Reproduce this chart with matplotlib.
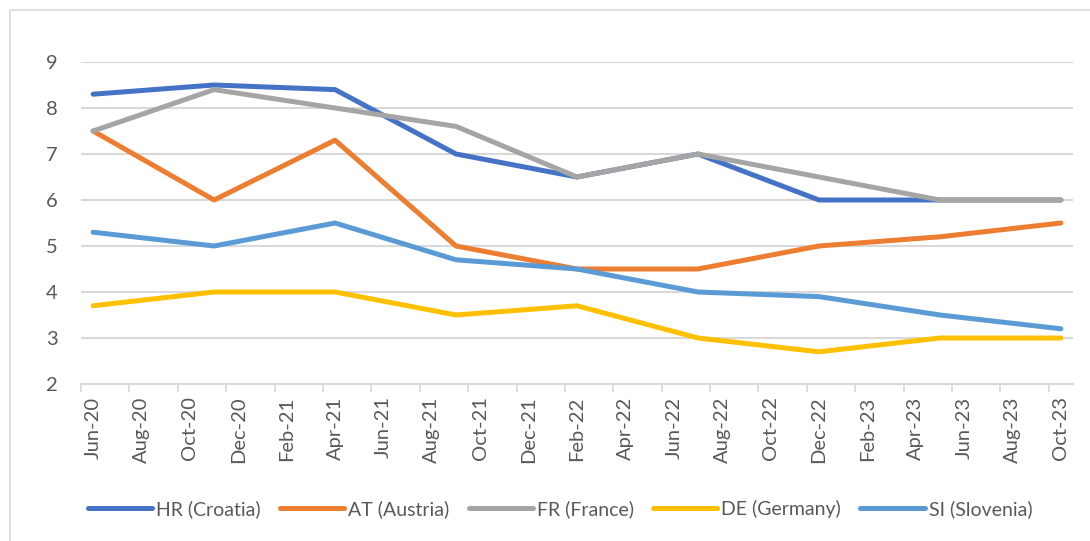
import matplotlib
matplotlib.use("Agg")
import matplotlib.pyplot as plt
from matplotlib.patches import Rectangle
from matplotlib.ticker import FixedLocator

# Data (month index 0 = Jun-20)
months = ["Jun-20","Jul-20","Aug-20","Sep-20","Oct-20","Nov-20","Dec-20","Jan-21","Feb-21","Mar-21",
          "Apr-21","May-21","Jun-21","Jul-21","Aug-21","Sep-21","Oct-21","Nov-21","Dec-21","Jan-22",
          "Feb-22","Mar-22","Apr-22","May-22","Jun-22","Jul-22","Aug-22","Sep-22","Oct-22","Nov-22",
          "Dec-22","Jan-23","Feb-23","Mar-23","Apr-23","May-23","Jun-23","Jul-23","Aug-23","Sep-23","Oct-23"]
point_months = ["Jun-20","Nov-20","Apr-21","Sep-21","Feb-22","Jul-22","Dec-22","May-23","Oct-23"]
hr = [8.3, 8.5, 8.4, 7.0, 6.5, 7.0, 6.0, 6.0, 6.0]
at = [7.5, 6.0, 7.3, 5.0, 4.5, 4.5, 5.0, 5.2, 5.5]
fr = [7.5, 8.4, 8.0, 7.6, 6.5, 7.0, 6.5, 6.0, 6.0]
de = [3.7, 4.0, 4.0, 3.5, 3.7, 3.0, 2.7, 3.0, 3.0]
si = [5.3, 5.0, 5.5, 4.7, 4.5, 4.0, 3.9, 3.5, 3.2]
series_names = ["HR (Croatia)", "AT (Austria)", "FR (France)", "DE (Germany)", "SI (Slovenia)"]
colors = ["#4472C4", "#ED7D31", "#A5A5A5", "#FFC000", "#5B9BD5"]
yticks = [2, 3, 4, 5, 6, 7, 8, 9]

plt.rcParams['font.family'] = ['Lato', 'DejaVu Sans']
text_color = "#595959"
grid_color = "#D9D9D9"

W, H = 1090, 541
fig = plt.figure(figsize=(W/100, H/100), dpi=100)
fig.patches.append(Rectangle((10/W, -0.1), 1.2, (H-10)/H + 0.1, transform=fig.transFigure,
                             facecolor='white', edgecolor=grid_color, linewidth=1.2, zorder=-1))

ax = fig.add_axes([81/W, (H-384)/H, (1073-81)/W, (384-62)/H])
ax.set_facecolor('none')

x = [months.index(m) for m in point_months]
for vals, name, c in zip([hr, at, fr, de, si], series_names, colors):
    ax.plot(x, vals, color=c, lw=3.6, solid_capstyle='round', solid_joinstyle='round', label=name, zorder=3)

ax.set_xlim(-0.5, len(months) - 0.5)
ax.set_ylim(2, 9)
ax.set_yticks(yticks)
ax.set_yticklabels([str(v) for v in yticks])
ax.yaxis.grid(True, color=grid_color, lw=1.5)
ax.set_axisbelow(True)

major = list(range(0, len(months), 2))
ax.set_xticks(major)
ax.set_xticklabels([months[i] for i in major], rotation=90)
ax.xaxis.set_minor_locator(FixedLocator([i - 0.5 for i in major]))
ax.tick_params(axis='x', which='major', length=0, pad=9, labelsize=14.5, colors=text_color)
ax.tick_params(axis='x', which='minor', length=6, width=1.3, color=grid_color)
ax.tick_params(axis='y', length=0, pad=17, labelsize=14.5, colors=text_color)

for s in ['top', 'right', 'left']:
    ax.spines[s].set_visible(False)
ax.spines['bottom'].set_color(grid_color)
ax.spines['bottom'].set_linewidth(1.5)

leg = fig.legend(loc='center', bbox_to_anchor=(560/W, (H-509)/H), ncol=5, frameon=False,
                 prop={'family': ['Lato', 'DejaVu Sans'], 'size': 14},
                 handlelength=3.3, handletextpad=0.2, columnspacing=1.0, labelcolor=text_color)
for l in leg.get_lines():
    l.set_linewidth(3.6)

fig.savefig("out.png", dpi=100, facecolor='white')
